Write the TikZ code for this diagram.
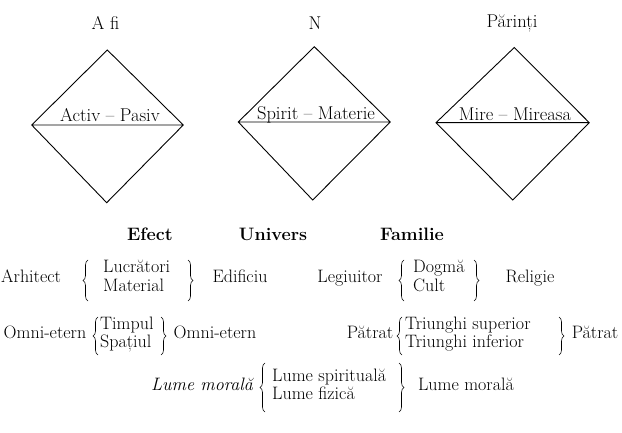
\documentclass[tikz,border=0pt]{standalone}
\usepackage{fontspec}
\usetikzlibrary{decorations.pathreplacing}
\begin{document}
\begin{tikzpicture}[x=1pt,y=-1pt,
  txt/.style={inner sep=0pt,font=\fontsize{18}{20}\selectfont},
  wide/.style={inner sep=0pt,font=\fontsize{18}{20}\selectfont\addfontfeature{LetterSpace=4}},
  ttl/.style={inner sep=0pt,font=\fontsize{18.5}{20}\selectfont},
  bld/.style={inner sep=0pt,font=\fontsize{18}{20}\selectfont\bfseries},
  dia/.style={line width=0.9pt,line join=miter},
  brc/.style={decorate,decoration={brace,amplitude=5pt},line width=0.6pt}]
\useasboundingbox (0,0) rectangle (622,433);
% titles
\node[ttl] (tA) at (105.5,23) {A fi};
\node[ttl] (tN) at (315,23) {N};
\node[ttl] (tP) at (512,23) {Părinți};
% diamonds
\coordinate (d1t) at (107.3,50);  \coordinate (d1l) at (31.7,125);
\coordinate (d1r) at (183.3,125); \coordinate (d1b) at (106.7,202.7);
\coordinate (d2t) at (314.3,46.7); \coordinate (d2l) at (238.3,122);
\coordinate (d2r) at (390.3,122); \coordinate (d2b) at (312.7,200);
\coordinate (d3t) at (514.3,47.5); \coordinate (d3l) at (436,122.7);
\coordinate (d3r) at (589.3,122.7); \coordinate (d3b) at (512.7,200);
\draw[dia] (d1t) -- (d1r) -- (d1b) -- (d1l) -- cycle (d1l) -- (d1r);
\draw[dia] (d2t) -- (d2r) -- (d2b) -- (d2l) -- cycle (d2l) -- (d2r);
\draw[dia] (d3t) -- (d3r) -- (d3b) -- (d3l) -- cycle (d3l) -- (d3r);
\node[ttl,anchor=base] (l1) at (110,122) {Activ – Pasiv};
\node[ttl,anchor=base] (l2) at (316,119.5) {Spirit – Materie};
\node[ttl,anchor=base] (l3) at (515,120.5) {Mire – Mireasa};
% bold titles
\node[bld] (bE) at (150,234) {Efect};
\node[bld] (bU) at (273,234) {Univers};
\node[bld] (bF) at (412,234) {Familie};
% row 1 left
\node[txt,anchor=mid west] (arh) at (1,280) {Arhitect};
\node[txt,anchor=mid west] (luc) at (103,270) {Lucrători};
\node[txt,anchor=mid west] (mat) at (103,289) {Material};
\node[txt,anchor=mid] (edi) at (240,280) {Edificiu};
\coordinate (b1a) at (88,301); \coordinate (b1b) at (88,260);
\coordinate (b1c) at (188,260); \coordinate (b1d) at (188,301);
\draw[brc] (b1a) -- (b1b);
\draw[brc] (b1c) -- (b1d);
% row 1 right
\node[txt,anchor=mid] (leg) at (350,280) {Legiuitor};
\node[txt,anchor=mid west] (dog) at (413,270) {Dogmă};
\node[txt,anchor=mid west] (cul) at (413,289) {Cult};
\node[txt,anchor=mid] (rel) at (530,280) {Religie};
\coordinate (b2a) at (404,301); \coordinate (b2b) at (404,260);
\coordinate (b2c) at (474,260); \coordinate (b2d) at (474,301);
\draw[brc] (b2a) -- (b2b);
\draw[brc] (b2c) -- (b2d);
% row 2 left
\node[txt,anchor=mid] (om1) at (45,336) {Omni-etern};
\node[txt,anchor=mid west] (tim) at (100,327) {Timpul};
\node[txt,anchor=mid west] (spa) at (100,345) {Spațiul};
\node[txt,anchor=mid] (om2) at (215,336) {Omni-etern};
\coordinate (b3a) at (98,355) ; \coordinate (b3b) at (98,317);
\coordinate (b3c) at (161,317); \coordinate (b3d) at (161,355);
\draw[brc] (b3a) -- (b3b);
\draw[brc] (b3c) -- (b3d);
% row 2 right
\node[txt,anchor=mid] (pa1) at (370,336) {Pătrat};
\node[wide,anchor=mid west] (tsu) at (405,327) {Triunghi superior};
\node[wide,anchor=mid west] (tin) at (405,345) {Triunghi inferior};
\node[txt,anchor=mid] (pa2) at (595,336) {Pătrat};
\coordinate (b4a) at (402,355); \coordinate (b4b) at (402,317);
\coordinate (b4c) at (559,317); \coordinate (b4d) at (559,355);
\draw[brc] (b4a) -- (b4b);
\draw[brc] (b4c) -- (b4d);
% row 3
\node[txt,anchor=mid] (lm1) at (202,388) {\itshape Lume morală};
\node[txt,anchor=mid west] (lsp) at (272,379) {Lume spirituală};
\node[txt,anchor=mid west] (lfi) at (272,397) {Lume fizică};
\node[txt,anchor=mid] (lm2) at (466,388) {Lume morală};
\coordinate (b5a) at (265,412); \coordinate (b5b) at (265,363);
\coordinate (b5c) at (399,363); \coordinate (b5d) at (399,412);
\draw[brc] (b5a) -- (b5b);
\draw[brc] (b5c) -- (b5d);
\end{tikzpicture}
\end{document}
